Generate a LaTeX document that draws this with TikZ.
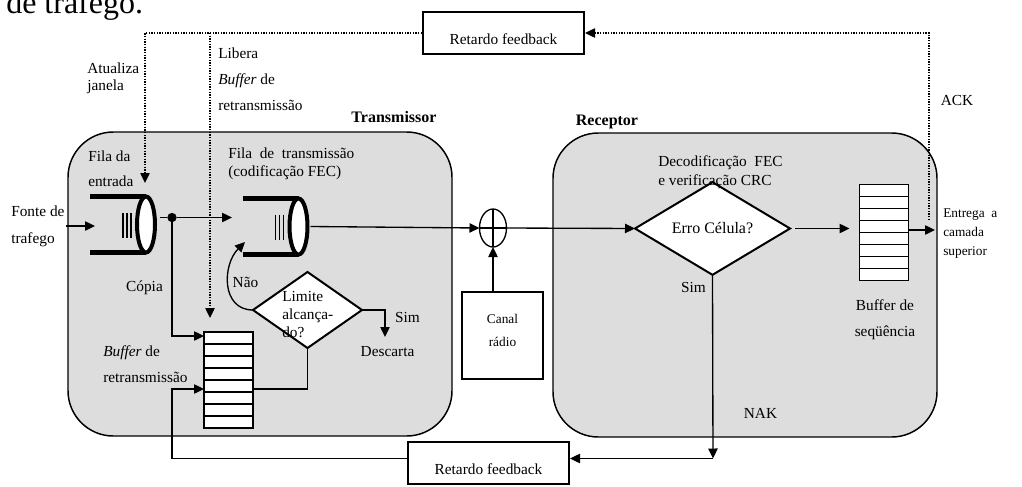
\documentclass[tikz,border=0pt]{standalone}
\usepackage{fontspec}
\setmainfont{Liberation Serif}
\usetikzlibrary{positioning, shapes.geometric, arrows.meta}
\definecolor{fundo}{HTML}{DDDDDD}

\begin{document}
\begin{tikzpicture}[
    x=0.75pt, y=-0.75pt,
    bloco/.style={
        rectangle,
        rounded corners=34pt,
        draw,
        line width=1.1pt,
        fill=fundo,
        minimum width=288pt,
        minimum height=228pt,
    },
    retardo/.style={
        rectangle,
        draw,
        line width=1.5pt,
        fill=white,
        minimum width=120.75pt,
        minimum height=32pt,
        text height=19pt,
        text depth=2pt,
        font=\fontsize{11.5}{13}\selectfont,
    },
    canalbox/.style={
        rectangle,
        draw,
        line width=1.5pt,
        fill=white,
        minimum width=60.75pt,
        minimum height=65.25pt,
    },
    decisao/.style={
        diamond,
        draw,
        line width=1.5pt,
        fill=white,
        inner sep=0pt,
        outer sep=0pt,
    },
    buffer/.style={
        rectangle,
        draw,
        line width=1.2pt,
        fill=white,
        minimum width=36.75pt,
        minimum height=72pt,
        inner sep=0pt,
        outer sep=0pt,
    },
    anel/.style={
        ellipse,
        draw,
        line width=3pt,
        fill=white,
        minimum width=13.5pt,
        minimum height=42pt,
        inner sep=0pt,
        outer sep=0pt,
    },
    soma/.style={ellipse, draw, line width=1pt, minimum width=20.25pt, minimum height=28.5pt, inner sep=0pt, outer sep=0pt},
    ponto/.style={circle, fill, minimum size=7pt, inner sep=0pt},
    texto/.style={inner sep=0pt, align=left, font=\fontsize{11.5}{19.5}\selectfont},
    titulo/.style={font=\fontsize{12}{14}\selectfont\bfseries},
    barra/.style={line width=3.75pt},
    fio/.style={line width=1pt},
    seta/.style={-{Triangle[length=7.5pt, width=7pt]}, line width=1pt},
    aviso/.style={seta, densely dotted},
]

\useasboundingbox (0,0) rectangle (1022,486);

% resto do paragrafo acima da figura
\node[anchor=base west, inner sep=0pt, font=\fontsize{24}{28}\selectfont] (resto) at (6, 13) {de trafego.};

% transmissor e receptor
\node[bloco] (transm) at (260, 284) {};
\node[bloco] (recep) at (745, 285) {};
\node[titulo] (ttransm) at (394, 117) {Transmissor};
\node[titulo] (trecep) at (607, 122) {Receptor};

\node[retardo] (retop) at (503.5, 33) {Retardo feedback};
\node[retardo] (retbot) at (488.5, 463) {Retardo feedback};

% realimentacao ACK (pontilhada)
\coordinate (atualiza) at (145, 183);
\coordinate (libera) at (210, 318);
\coordinate (ack) at (929, 220);
\draw[aviso] (retop.west) -| (atualiza);
\draw[aviso] (retop.west -| libera) -- (libera);
\draw[aviso] (ack) |- (retop.east);

\node[texto, font=\fontsize{11.5}{12.75}\selectfont, anchor=west] (tatualiza) at (87, 78.5) {Atualiza\\janela};
\node[texto, anchor=west] (tlibera) at (218, 79) {Libera\\\textit{Buffer} de\\retransmissão};
\node[texto] (tack) at (957, 100) {ACK};

% filas de entrada e de transmissao
\foreach \nome/\px/\py in {filaA/146/224.5, filaB/298.5/226.5} {
    \draw[barra] (\px-56, \py-28) -- (\px, \py-28);
    \draw[barra] (\px-56, \py+28) -- (\px, \py+28);
    \foreach \d in {-23, -19, -15}
        \draw[fio] (\px+\d, \py-12) -- (\px+\d, \py+13);
    \node[anel] (\nome) at (\px, \py) {};
}

\node[texto, font=\fontsize{11.5}{19}\selectfont, anchor=west] (tfilaA) at (88, 169) {Fila da\\entrada};
\node[texto, font=\fontsize{11.5}{13.5}\selectfont, anchor=west] (tfilaB) at (228, 164) {Fila\ \ de\ \ transmissão\\(codificação FEC)};
\node[texto, font=\fontsize{11.5}{20.25}\selectfont, anchor=west] (tfonte) at (11, 226.5) {Fonte de\\trafego};

% buffers
\node[buffer] (bufR) at (228.5, 380) {};
\node[buffer] (bufS) at (884, 232.5) {};
\foreach \b in {bufR, bufS}
    \foreach \k in {1,...,7}
        \draw[fio] ([yshift=-\k*9pt]\b.north west) -- ([yshift=-\k*9pt]\b.north east);

\node[texto, anchor=west] (tbufR) at (103, 364) {\textit{Buffer} de\\retransmissão};
\node[texto, align=center] (tbufS) at (885, 320) {Buffer de\\seqüência};

% decisoes
\node[decisao, minimum width=81.75pt, minimum height=57pt] (limite) at (307.5, 310) {};
\node[texto, font=\fontsize{11.5}{13.5}\selectfont, anchor=west] (tlimite) at (282, 315) {Limite\\alcança-\\do?};
\node[decisao, minimum width=116.25pt, minimum height=54.75pt, font=\fontsize{12}{14}\selectfont] (erro) at (712.5, 228.5) {Erro Célula?\hspace{8pt}};
\node[texto, font=\fontsize{11.5}{14.25}\selectfont, anchor=west] (tdecod) at (658, 172.5) {Decodificação\ \ FEC\\e verificação CRC};

% canal
\node[soma] (somador) at (493, 228) {};
\draw[fio] (somador.north) -- (somador.south);
\draw[fio] (somador.west) -- (somador.east);
\node[canalbox] (canal) at (502.5, 335.5) {};
\node[texto, align=center, font=\fontsize{10}{17}\selectfont] (tcanal) at (502.5, 330.5) {Canal\\rádio};

% fluxo do transmissor
\coordinate (fonte) at (66, 226);
\node[ponto] (copia) at (172, 217.5) {};
\draw[seta] (fonte) -- ++(29, 0);
\draw[fio] (copia) -- ++(-12, 0);
\draw[seta] (copia) -- ++(60, 0);
\draw[seta] (copia) |- ([yshift=-3pt]bufR.north west);
\draw[fio] ([yshift=-6.75pt]bufR.east) -| (limite.south);
\draw[seta] (limite.east) -| ++(23, 27);
\draw[seta, looseness=1.2] (limite.west) to[out=180, in=225] ++(-8, -68);
\draw[seta] ([xshift=2.25pt]filaB.east) -- (somador.west);
\draw[seta] (canal.north -| somador) -- (somador.south);

\node[texto] (tcopia) at (144.5, 288) {Cópia};
\node[texto] (tnao) at (245.5, 282) {Não};
\node[texto] (tsim1) at (407.5, 317) {Sim};
\node[texto] (tdescarta) at (387.5, 352) {Descarta};

% fluxo do receptor
\coordinate (nak) at (713, 458.5);
\coordinate (entrega) at (935, 230);
\draw[seta] (somador.east) -- (erro.west);
\draw[seta] ([xshift=3.75pt]erro.east) -- ([xshift=-7.5pt]bufS.west |- erro.east);
\draw[seta] (bufS.east |- entrega) -- (entrega);
\draw[seta] (erro.south) -- (nak);
\draw[seta] (nak) -- (nak -| retbot.east);
\draw[seta] (nak -| retbot.west) -- (nak -| copia) |- ([yshift=-6.75pt]bufR.west);

\node[texto] (tsim2) at (693.5, 287) {Sim};
\node[texto] (tnak) at (760.5, 413) {NAK};
\node[texto, font=\fontsize{10}{14}\selectfont, anchor=west] (tentrega) at (943, 233.5) {Entrega\ \ a\\camada\\superior};

\end{tikzpicture}
\end{document}
